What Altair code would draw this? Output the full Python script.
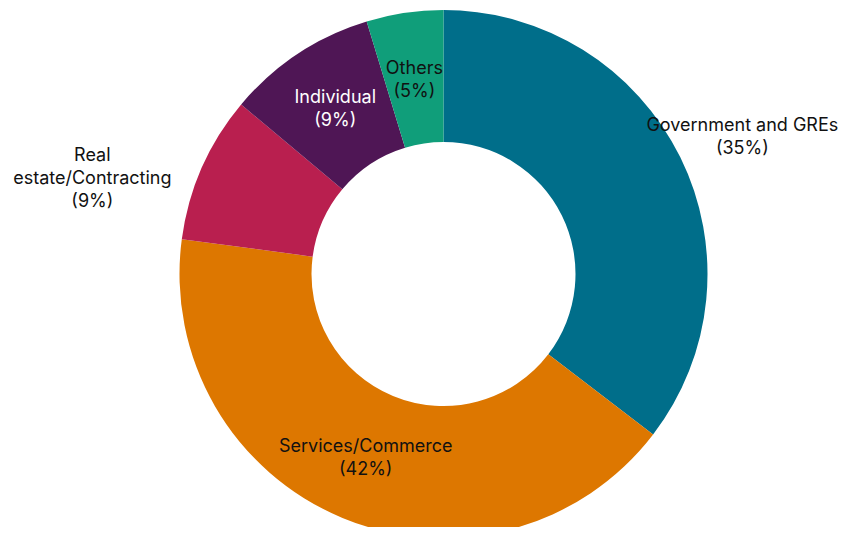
import altair as alt
import pandas as pd

categories = ["Government and GREs", "Services/Commerce", "Real estate/Contracting", "Individual", "Others"]
label_lines = [["Government and GREs"], ["Services/Commerce"], ["Real", "estate/Contracting"], ["Individual"], ["Others"]]
values = [35.4, 41.7, 9.0, 9.2, 4.7]
colors = ["#006E8A", "#DD7700", "#B91F4F", "#4F1655", "#109E7A"]

df = pd.DataFrame({
    "category": categories,
    "value": values,
    "idx": list(range(len(categories))),
    "label": [lines + [f"({round(v)}%)"] for lines, v in zip(label_lines, values)],
})

CX, CY = 435.5, 266
R_OUT, R_IN = 264, 132
LH = 23

base = alt.Chart(df).transform_window(
    cum="sum(value)", sort=[alt.SortField("idx")]
).transform_joinaggregate(
    total="sum(value)"
).transform_calculate(
    mid="(datum.cum - datum.value / 2) / datum.total * 2 * PI"
)

arcs = alt.Chart(df).mark_arc(radius=R_OUT, radius2=R_IN, stroke=None).encode(
    x=alt.value(CX), y=alt.value(CY),
    theta=alt.Theta("value:Q", stack=True),
    order=alt.Order("idx:Q"),
    color=alt.Color("category:N", scale=alt.Scale(domain=categories, range=colors), legend=None),
)

# label placement per category: (radius, dx, dy, color)
label_style = {
    "Government and GREs": (340, -6, 14, "#111111"),
    "Services/Commerce": (198, -2, 2, "#111111"),
    "Real estate/Contracting": (340, -40, 42, "#111111"),
    "Individual": (198, 1, 1, "#FFFFFF"),
    "Others": (198, 0, 2, "#111111"),
}

layers = [arcs]
for (cat, (r, dx, dy, col)), lines in zip(label_style.items(), label_lines):
    n = len(lines) + 1
    layers.append(
        base.transform_filter(alt.datum.category == cat).mark_text(
            radius=r, dx=dx, dy=dy - (n - 1) * LH / 2, align="center", baseline="middle",
            font="Inter", fontSize=18, lineHeight=LH, color=col,
        ).encode(
            x=alt.value(CX), y=alt.value(CY),
            theta=alt.Theta("mid:Q", scale=None),
            text="label:N",
        )
    )

chart = alt.layer(*layers).properties(
    width=840, height=519, padding=0, autosize=alt.AutoSizeParams(type="none"),
).configure_view(stroke=None)

chart.save("out.html", embed_options={"renderer": "svg", "actions": False})
